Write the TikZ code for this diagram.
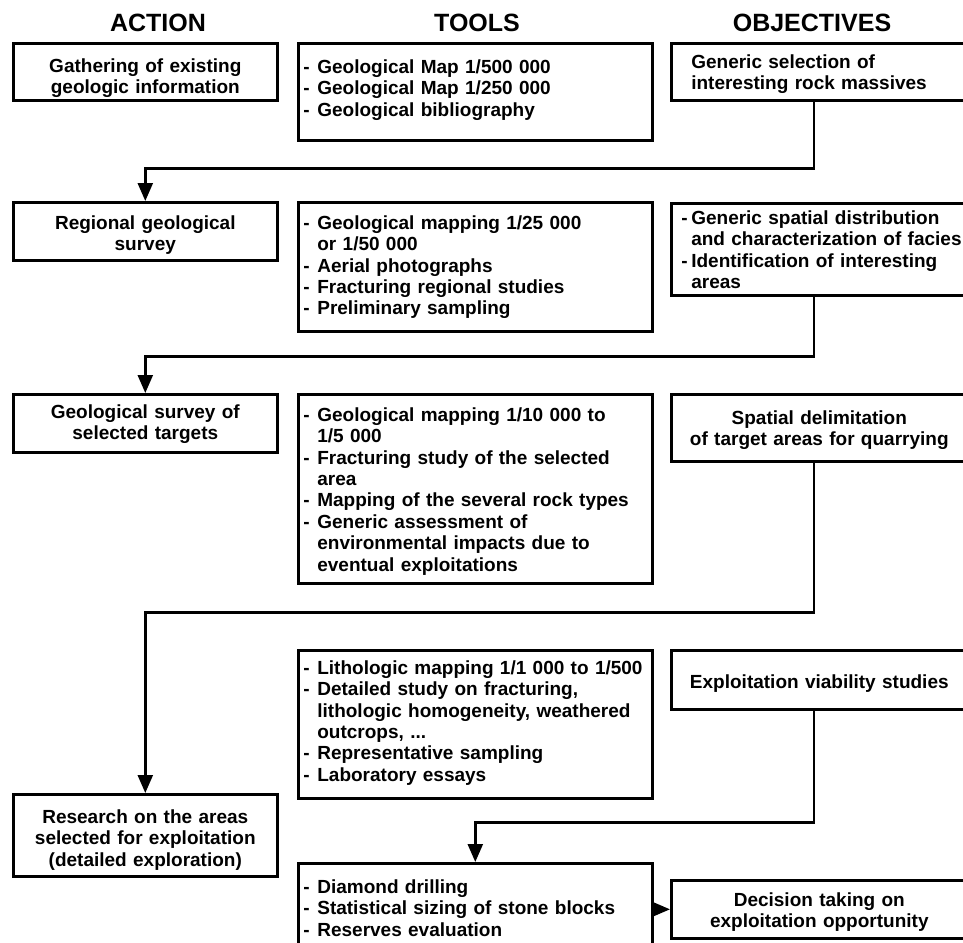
\documentclass[tikz,border=0pt]{standalone}
\usepackage{fontspec}
\setmainfont{Liberation Sans}
\usetikzlibrary{arrows.meta}
\newcommand{\itm}[1][0.74em]{\makebox[#1][l]{-}}
\newcommand{\cnt}[1][0.74em]{\hspace*{#1}}

\begin{document}
\begin{tikzpicture}[
      x=1pt, y=1pt,
      every node/.style={font=\bfseries\fontsize{19}{21.4}\selectfont},
      head/.style={font=\bfseries\fontsize{25}{28}\selectfont, anchor=base},
      box/.style={draw, line width=2.6pt, anchor=north west, inner ysep=0pt},
      act/.style={box, align=center, inner xsep=4pt, text width=256pt},
      tool/.style={box, align=left, inner xsep=5pt, text width=344pt},
      obj/.style={box, align=center, inner xsep=5pt, text width=286pt},
      flow/.style={line width=2.4pt, -{Triangle[length=18pt, width=15pt]}}
    ]
      \clip[use as bounding box] (0,0) rectangle (963,-942);

% Headers
      \node[head] (hact) at (158,-32) {ACTION};
      \node[head] (htool) at (477,-32) {TOOLS};
      \node[head] (hobj) at (812,-32) {OBJECTIVES};

% Nodes
      \node[act, text height=29pt, text depth=28pt] (gather) at (12,-42)
      {Gathering of existing\\geologic information};
      \node[tool, text height=30pt, text depth=67pt] (maps) at (297,-42)
      {\itm Geological Map 1/500 000\\\itm Geological Map 1/250 000\\
      \itm Geological bibliography};
      \node[obj, align=left, inner xsep=20pt, text width=256pt,
      text height=25pt, text depth=32pt] (selection) at (670,-42)
      {Generic selection of\\interesting rock massives};

      \node[act, text height=27pt, text depth=31pt] (regional) at (12,-201)
      {Regional geological\\survey};
      \node[tool, text height=27pt, text depth=102pt] (mapping) at (297,-201)
      {\itm Geological mapping 1/25 000\\\cnt or 1/50 000\\\itm Aerial photographs\\
      \itm Fracturing regional studies\\\itm Preliminary sampling};
      \node[obj, align=left, inner xsep=10pt, text width=310pt,
      text height=21pt, text depth=71pt] (facies) at (670,-202)
      {\itm[10pt]Generic spatial distribution\\\cnt[10pt]and characterization of facies\\
      \itm[10pt]Identification of interesting\\\cnt[10pt]areas};

      \node[act, text height=24pt, text depth=34pt] (targets) at (12,-393)
      {Geological survey of\\selected targets};
      \node[tool, text height=27pt, text depth=162pt] (detmap) at (297,-393)
      {\itm Geological mapping 1/10 000 to\\\cnt 1/5 000\\
      \itm Fracturing study of the selected\\\cnt area\\
      \itm Mapping of the several rock types\\\itm Generic assessment of\\
      \cnt environmental impacts due to\\\cnt eventual exploitations};
      \node[obj, text height=30pt, text depth=37pt] (delimit) at (670,-393)
      {Spatial delimitation\\of target areas for quarrying};

      \node[tool, text height=24pt, text depth=124pt] (litho) at (297,-649)
      {\itm Lithologic mapping 1/1 000 to 1/500\\\itm Detailed study on fracturing,\\
      \cnt lithologic homogeneity, weathered\\\cnt outcrops, ...\\
      \itm Representative sampling\\\itm Laboratory essays};
      \node[obj, text height=38pt, text depth=21pt] (viability) at (670,-649)
      {Exploitation viability studies};
      \node[act, text height=29pt, text depth=53pt] (research) at (12,-793)
      {Research on the areas\\selected for exploitation\\(detailed exploration)};

      \node[tool, text height=30pt, text depth=70pt] (drilling) at (297,-862)
      {\itm Diamond drilling\\\itm Statistical sizing of stone blocks\\
      \itm Reserves evaluation};
      \node[obj, text height=26pt, text depth=32pt] (decision) at (670,-879)
      {Decision taking on\\exploitation opportunity};

% Connections
      \coordinate (spine) at (814,0);
      \draw[flow] (selection.south -| spine) -- ++(0,-67) -| (regional.north);
      \draw[flow] (facies.south -| spine) -- ++(0,-60) -| (targets.north);
      \draw[flow] (delimit.south -| spine) -- ++(0,-150) -| (research.north);
      \draw[flow] (viability.south -| spine) -- ++(0,-112) -| (drilling.north);
      \draw[flow, -{Triangle[length=16pt, width=13pt]}] (decision.west -| drilling.east)
      -- (decision.west);

    \end{tikzpicture}
\end{document}
